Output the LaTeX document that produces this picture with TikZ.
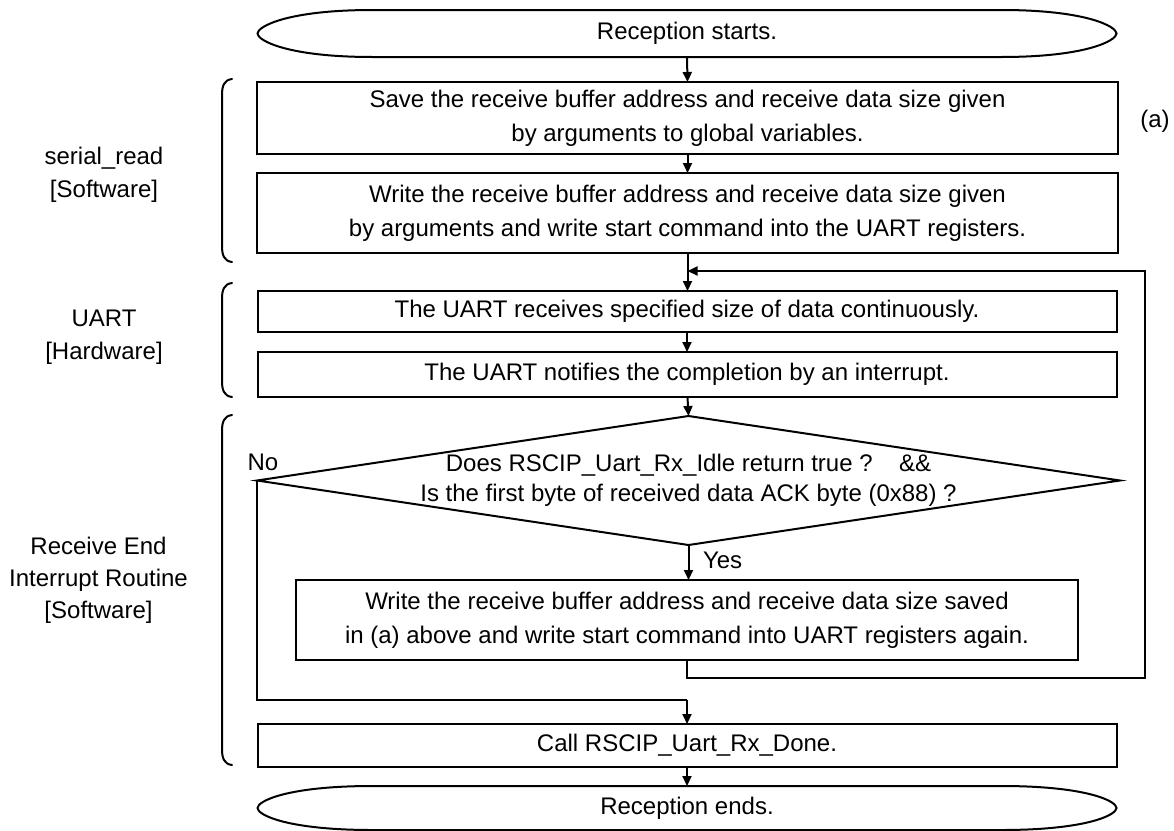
\documentclass[tikz,border=0pt]{standalone}
\usepackage{fontspec}
\setmainfont{Liberation Sans}
\usetikzlibrary{arrows.meta,calc}
\begin{document}
\begin{tikzpicture}[x=1pt,y=-1pt,
  every node/.style={font=\fontsize{24}{34}\selectfont, inner sep=0pt, outer sep=0pt},
  ln/.style={line width=2pt, line join=miter},
  box/.style={draw, ln, align=center},
  plain/.style={align=center},
  arr/.style={ln, -{Triangle[length=10pt,width=9pt]}},
  brace/.style={line width=2pt, line cap=round}
]
\useasboundingbox (0,0) rectangle (1174,830);

% terminals
\node[plain, minimum width=859, minimum height=47] (start) at (687,33.5) {Reception starts.};
\node[plain, minimum width=859, minimum height=44] (end) at (687,808) {Reception ends.};
\foreach \n in {start,end}{
  \draw[ln] ($(\n.north west)+(115,0)$) -- ($(\n.north east)+(-115,0)$)
    .. controls ($(\n.north east)+(-30,0)$) and ($(\n.east)+(0,-7)$) .. (\n.east)
    .. controls ($(\n.east)+(0,7)$) and ($(\n.south east)+(-30,0)$) .. ($(\n.south east)+(-115,0)$)
    -- ($(\n.south west)+(115,0)$)
    .. controls ($(\n.south west)+(30,0)$) and ($(\n.west)+(0,7)$) .. (\n.west)
    .. controls ($(\n.west)+(0,-7)$) and ($(\n.north west)+(30,0)$) .. cycle;
}

% process boxes
\node[box, minimum width=861, minimum height=72] (b1) at (687.5,118)
  {Save the receive buffer address and receive data size given\\by arguments to global variables.};
\node[box, minimum width=861, minimum height=80] (b2) at (687.5,213)
  {Write the receive buffer address and receive data size given\\by arguments and write start command into the UART registers.};
\node[box, minimum width=859, minimum height=41] (b3) at (687,311.5)
  {The UART receives specified size of data continuously.};
\node[box, minimum width=859, minimum height=45] (b4) at (687,374.5)
  {The UART notifies the completion by an interrupt.};
\node[plain, minimum width=863, minimum height=129,
      font=\fontsize{24}{30}\selectfont] (dec) at (688.5,480.5)
  {Does RSCIP\_Uart\_Rx\_Idle return true ?\hspace{1.1em}\&\&\\Is the first byte of received data ACK byte (0x88) ?};
\draw[ln] (dec.north) -- (dec.east) -- (dec.south) -- (dec.west) -- cycle;
\node[box, minimum width=782, minimum height=80] (b5) at (687,620)
  {Write the receive buffer address and receive data size saved\\in (a) above and write start command into UART registers again.};
\node[box, minimum width=859, minimum height=43] (b6) at (687,745.5)
  {Call RSCIP\_Uart\_Rx\_Done.};

% labels
\node[plain] (la) at (1155,121) {(a)};
\node[plain, anchor=south] (no) at (263,471) {No};
\node[plain, anchor=west] (yes) at (703,560) {Yes};
\node[plain, font=\fontsize{24}{33}\selectfont] (l1) at (104,175) {serial\_read\\{}[Software]};
\node[plain, font=\fontsize{24}{33}\selectfont] (l2) at (104,337) {UART\\{}[Hardware]};
\node[plain, font=\fontsize{24}{32}\selectfont] (l3) at (98.5,580) {Receive End\\Interrupt Routine\\{}[Software]};

% junctions
\coordinate (j1) at (687.5,271);
\coordinate (c1) at (1145,271);
\coordinate (c2) at (1145,678);
\coordinate (c3) at (687,678);
\coordinate (j2) at (687,700);
\coordinate (c4) at (dec.west |- j2);

% connectors
\draw[arr] (start.south) -- (b1.north);
\draw[arr] (b1.south) -- (b2.north);
\draw[arr] (b2.south) -- (b2.south |- b3.north);
\draw[arr] (b3.south) -- (b4.north);
\draw[arr] ($(b4.south)+(0.5,0)$) -- (dec.north);
\draw[arr] (dec.south) -- (dec.south |- b5.north);
\draw[arr] (b5.south) -- (c3) -- (c2) -- (c1) -- (j1);
\draw[ln] (dec.west) -- (c4) -- (j2);
\draw[arr] (j2) -- (b6.north);
\draw[arr] (b6.south) -- (end.north);

% braces
\foreach \t/\b in {79/262, 283/397, 415/765}{
  \draw[brace] (232,\t) .. controls (224,\t+1) and (222,\t+7) .. (222,\t+16)
     -- (222,\b-16) .. controls (222,\b-7) and (224,\b-1) .. (232,\b);
}
\end{tikzpicture}
\end{document}
